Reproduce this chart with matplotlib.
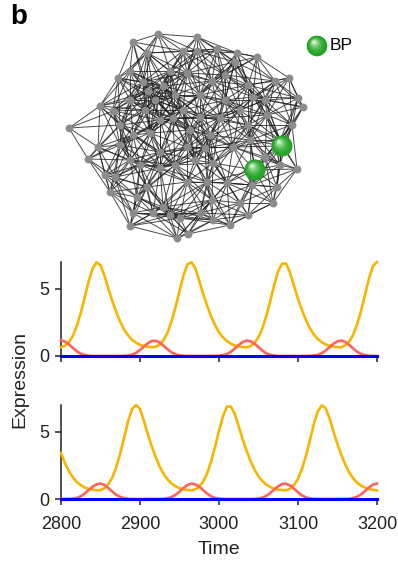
import numpy as np
import matplotlib.pyplot as plt
from matplotlib.patches import Circle

plt.rcParams['font.family'] = ['Liberation Sans', 'DejaVu Sans']

# network node positions (pixels in the upper panel, y downwards)
node_x = [158, 197, 133, 147, 183, 197, 217, 237, 257, 235,
          130, 118, 170, 187, 143, 212, 248, 275, 289, 163,
          148, 298, 303, 100, 113, 145, 183, 200, 220, 267,
          253, 69, 133, 150, 173, 248, 292, 98, 120, 160,
          187, 233, 88, 115, 160, 140, 213, 265, 297, 110,
          137, 147, 187, 207, 227, 252, 277, 163, 212, 240,
          273, 133, 153, 180, 200, 213, 248, 130, 177, 188,
          170, 200, 225, 175, 130, 160, 210, 240, 120, 175,
          195, 250, 280, 225, 105, 205, 130, 230, 265, 190,
          155, 280]
node_y = [34, 37, 42, 53, 51, 51, 49, 53, 57, 62,
          71, 78, 71, 73, 82, 81, 85, 81, 78, 86,
          91, 98, 107, 106, 111, 110, 110, 117, 118, 115,
          97, 128, 135, 133, 118, 125, 125, 147, 145, 152,
          147, 147, 159, 177, 168, 165, 163, 157, 169, 192,
          197, 187, 182, 182, 183, 185, 187, 207, 200, 203,
          203, 213, 213, 218, 213, 220, 215, 226, 238, 234,
          215, 95, 100, 95, 100, 120, 135, 110, 125, 165,
          160, 140, 140, 75, 175, 148, 160, 225, 100, 130,
          100, 165]

# BP nodes
bp_x = [282, 255]
bp_y = [146, 170]

# time courses
time = np.arange(2800, 3201, 5)

top_yellow = [0.65, 0.77, 1.04, 1.5, 2.24, 3.2, 4.36, 5.56, 6.52, 6.98,
              6.76, 6.0, 5.0, 4.08, 3.26, 2.54, 1.96, 1.53, 1.2, 0.99,
              0.83, 0.74, 0.68, 0.65, 0.69, 0.86, 1.2, 1.76, 2.6, 3.64,
              4.84, 6.0, 6.82, 6.98, 6.55, 5.6, 4.62, 3.74, 2.96, 2.29,
              1.77, 1.39, 1.11, 0.92, 0.78, 0.71, 0.66, 0.65, 0.74, 0.98,
              1.4, 2.08, 3.0, 4.12, 5.32, 6.34, 6.88, 6.88, 6.2, 5.2,
              4.26, 3.42, 2.68, 2.07, 1.61, 1.27, 1.03, 0.86, 0.75, 0.69,
              0.66, 0.66, 0.8, 1.1, 1.6, 2.4, 3.4, 4.6, 5.8, 6.7,
              7.0]
top_red = [1.17, 1.07, 0.87, 0.6, 0.35, 0.17, 0.07, 0.02, 0.0, 0.0,
           0.0, 0.0, 0.0, 0.0, 0.0, 0.0, 0.01, 0.04, 0.1, 0.24,
           0.45, 0.71, 0.95, 1.12, 1.13, 1.0, 0.76, 0.5, 0.27, 0.12,
           0.05, 0.01, 0.0, 0.0, 0.0, 0.0, 0.0, 0.0, 0.0, 0.0,
           0.02, 0.06, 0.15, 0.31, 0.55, 0.82, 1.04, 1.15, 1.09, 0.92,
           0.66, 0.4, 0.2, 0.08, 0.03, 0.0, 0.0, 0.0, 0.0, 0.0,
           0.0, 0.0, 0.0, 0.01, 0.03, 0.08, 0.2, 0.4, 0.66, 0.92,
           1.09, 1.15, 1.04, 0.82, 0.55, 0.31, 0.15, 0.06, 0.02, 0.0,
           0.0]
bot_yellow = [3.42, 2.68, 2.07, 1.61, 1.27, 1.03, 0.86, 0.75, 0.69, 0.66,
              0.66, 0.8, 1.1, 1.6, 2.4, 3.4, 4.6, 5.8, 6.7, 7.0,
              6.7, 5.8, 4.8, 3.9, 3.1, 2.4, 1.85, 1.45, 1.15, 0.95,
              0.8, 0.72, 0.67, 0.65, 0.71, 0.92, 1.3, 1.92, 2.8, 3.88,
              5.08, 6.16, 6.88, 6.88, 6.34, 5.4, 4.44, 3.58, 2.82, 2.18,
              1.69, 1.33, 1.07, 0.89, 0.76, 0.7, 0.66, 0.65, 0.77, 1.04,
              1.5, 2.24, 3.2, 4.36, 5.56, 6.52, 6.98, 6.76, 6.0, 5.0,
              4.08, 3.26, 2.54, 1.96, 1.53, 1.2, 0.99, 0.83, 0.74, 0.68,
              0.65]
bot_red = [0.02, 0.01, 0.01, 0.03, 0.08, 0.2, 0.4, 0.66, 0.92, 1.09,
           1.15, 1.04, 0.82, 0.55, 0.31, 0.15, 0.06, 0.02, 0.0, 0.0,
           0.0, 0.0, 0.0, 0.0, 0.0, 0.0, 0.02, 0.06, 0.15, 0.31,
           0.55, 0.82, 1.04, 1.15, 1.09, 0.92, 0.66, 0.4, 0.2, 0.08,
           0.03, 0.01, 0.0, 0.0, 0.0, 0.0, 0.0, 0.0, 0.0, 0.01,
           0.04, 0.1, 0.24, 0.45, 0.71, 0.95, 1.12, 1.13, 1.0, 0.76,
           0.5, 0.27, 0.12, 0.05, 0.01, 0.0, 0.0, 0.0, 0.0, 0.0,
           0.0, 0.0, 0.0, 0.02, 0.07, 0.17, 0.35, 0.6, 0.87, 1.07,
           1.15]
top_blue = [0.0] * len(time)
bot_blue = [0.0] * len(time)

YELLOW = '#f7b500'
RED = '#ff6258'
BLUE = '#0000ff'


def draw_ball(ax, x, y, r):
    # shaded green sphere, soft light spot up-left
    n = 20
    dark = np.array([0.14, 0.64, 0.14])
    light = np.array([0.86, 0.97, 0.86])
    for i in range(n):
        f = i / (n - 1)
        rr = r * (1 - 0.9 * f)
        cx = x - 0.3 * r * f
        cy = y - 0.4 * r * f
        col = dark + (light - dark) * f ** 2.0
        ax.add_patch(Circle((cx, cy), rr, color=col, lw=0, zorder=5 + i * 0.01))


fig = plt.figure(figsize=(3.98, 5.63), dpi=100)

# network panel
net = fig.add_axes([0, 1 - 250 / 563, 1, 250 / 563])
net.set_xlim(0, 398)
net.set_ylim(250, 0)
net.axis('off')

all_x = np.array(node_x + bp_x, dtype=float)
all_y = np.array(node_y + bp_y, dtype=float)
for i in range(len(all_x)):
    for j in range(i + 1, len(all_x)):
        if np.hypot(all_x[i] - all_x[j], all_y[i] - all_y[j]) < 52:
            net.plot([all_x[i], all_x[j]], [all_y[i], all_y[j]],
                     color='#1e1e1e', lw=0.7, alpha=0.8, zorder=1)
net.scatter(node_x, node_y, s=32, color='#8c8c8c', lw=0, zorder=3)
for bx, by in zip(bp_x, bp_y):
    draw_ball(net, bx, by, 10.5)
draw_ball(net, 317, 46, 10.3)
net.text(330, 46, 'BP', fontsize=12.5, va='center', ha='left')

fig.text(10 / 398, 1 - 4 / 563, 'b', fontsize=20, fontweight='bold',
         ha='left', va='top')

# time course panels
left = 61 / 398
width = (377 - 61) / 398
ax1 = fig.add_axes([left, (563 - 356) / 563, width, 94 / 563])
ax2 = fig.add_axes([left, (563 - 499) / 563, width, 94 / 563])

for ax, yel, red, blu in [(ax1, top_yellow, top_red, top_blue),
                          (ax2, bot_yellow, bot_red, bot_blue)]:
    ax.plot(time, yel, color=YELLOW, lw=1.9, zorder=3, clip_on=False)
    ax.plot(time, red, color=RED, lw=1.9, zorder=4, clip_on=False)
    ax.plot(time, blu, color=BLUE, lw=2.2, zorder=5, clip_on=False)
    ax.set_xlim(2800, 3200)
    ax.set_ylim(0, 7)
    ax.set_yticks([0, 5])
    ax.set_xticks([2800, 2900, 3000, 3100, 3200])
    for s in ['top', 'right']:
        ax.spines[s].set_visible(False)
    for s in ['left', 'bottom']:
        ax.spines[s].set_linewidth(1.1)
        ax.spines[s].set_color('#222222')
    ax.tick_params(axis='both', length=4.5, width=1.1, color='#222222',
                   labelsize=13, labelcolor='#222222')
    ax.tick_params(axis='x', pad=8)
    ax.tick_params(axis='y', pad=4)

ax1.set_xticklabels([])

fig.text(20 / 398, 1 - 380 / 563, 'Expression', rotation=90, fontsize=14,
         ha='center', va='center', color='#222222')
fig.text(219 / 398, 1 - 549 / 563, 'Time', fontsize=14, ha='center',
         va='center', color='#222222')

fig.savefig('out.png', dpi=100)
